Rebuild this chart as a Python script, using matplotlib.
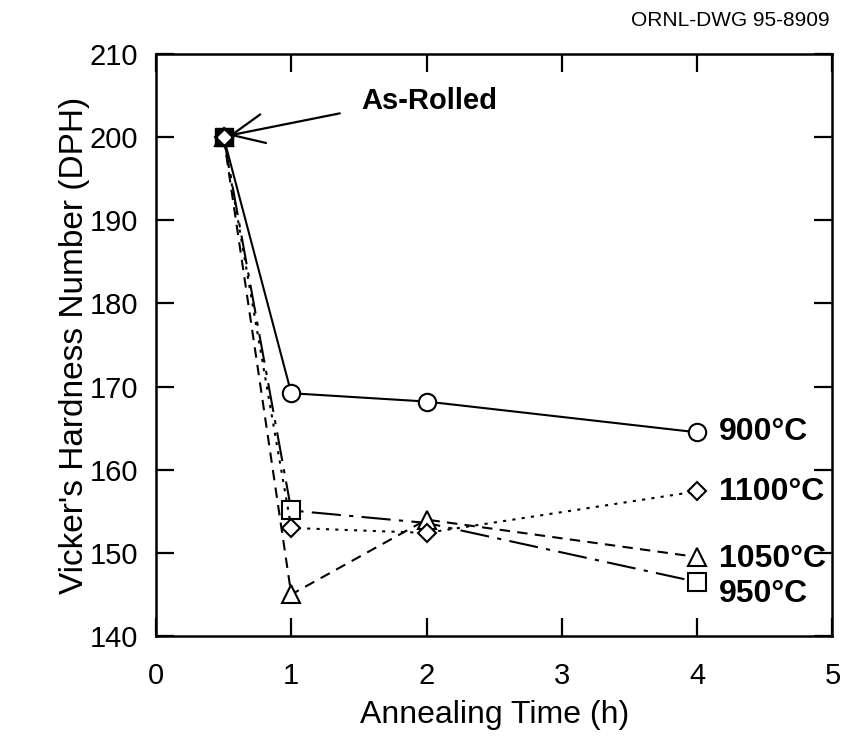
import matplotlib.pyplot as plt

plt.rcParams['font.family'] = ['Liberation Sans', 'DejaVu Sans']

# data
as_rolled_t = 0.5
as_rolled_h = 200
times = [0.5, 1, 2, 4]
h_900 = [200, 169.2, 168.2, 164.5]
h_950 = [200, 155.1, 153.6, 146.5]
h_1050 = [200, 145.0, 154.0, 149.5]
h_1100 = [200, 153.0, 152.4, 157.4]
series_labels = ['900°C', '1100°C', '1050°C', '950°C']

fig = plt.figure(figsize=(8.45, 7.38), dpi=100)
ax = fig.add_axes([0.1846, 0.1382, 0.8005, 0.7886])

ax.plot(times, h_900, color='black', lw=1.5, ls='-', marker='o', ms=12.5,
        mfc='white', mec='black', mew=1.5)
ax.plot(times, h_950, color='black', lw=1.5, ls=(0, (14, 4, 2, 4)), marker='s', ms=12.5,
        mfc='white', mec='black', mew=1.5, markevery=[1, 3])
ax.plot(times, h_1050, color='black', lw=1.5, ls=(0, (5, 3.5)), marker='^', ms=12.5,
        mfc='white', mec='black', mew=1.5)
ax.plot(times, h_1100, color='black', lw=1.5, ls=(0, (1.5, 3)), marker='D', ms=9.5,
        mfc='white', mec='black', mew=1.5)

# as-rolled point: black square with a diamond on top
ax.plot(as_rolled_t, as_rolled_h, marker='s', ms=13, mfc='black', mec='black', zorder=5)
ax.plot(as_rolled_t, as_rolled_h, marker='D', ms=6, mfc='white', mec='white', zorder=6)

ax.annotate('As-Rolled', xy=(0.54, 200.2), xytext=(1.52, 204.4), fontsize=21,
            fontweight='bold', va='center', ha='left',
            arrowprops=dict(arrowstyle='->,head_length=1.1,head_width=0.5', lw=1.6,
                            color='black', shrinkA=14, shrinkB=0, relpos=(0, 0.2)))

end_y = [h_900[-1], h_1100[-1] - 0.1, h_1050[-1] - 0.2, h_950[-1] - 1.4]
for lab, yv in zip(series_labels, end_y):
    ax.text(4.16, yv, lab, fontsize=23, fontweight='bold', va='center', ha='left')

ax.set_xlim(0, 5)
ax.set_ylim(140, 210)
ax.set_xticks([0, 1, 2, 3, 4, 5])
ax.set_yticks(range(140, 211, 10))
ax.tick_params(direction='in', length=13, width=1.6, top=True, right=True,
               labelsize=21)
ax.tick_params(axis='x', pad=19)
ax.tick_params(axis='y', pad=13)
for sp in ax.spines.values():
    sp.set_linewidth(1.8)

ax.set_xlabel('Annealing Time (h)', fontsize=23)
ax.set_ylabel("Vicker's Hardness Number (DPH)", fontsize=24)
ax.xaxis.label.set_va('center')
ax.yaxis.label.set_va('center')
ax.xaxis.set_label_coords(0.5, -0.135)
ax.yaxis.set_label_coords(-0.12, 0.5)

fig.text(0.982, 0.972, 'ORNL-DWG 95-8909', fontsize=15, ha='right', va='center')

fig.savefig('out.png', dpi=100)
